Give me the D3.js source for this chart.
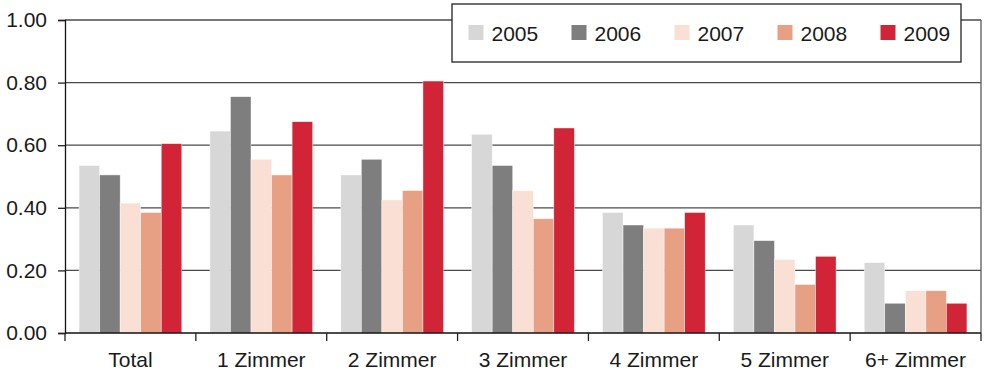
<!DOCTYPE html>
<html>
<head>
<meta charset="utf-8">
<script src="https://cdn.jsdelivr.net/npm/d3@7"></script>
<style>
  html, body { margin: 0; padding: 0; background: #fff; }
  svg { display: block; font-family: "Liberation Sans", Arial, sans-serif; }
</style>
</head>
<body>
<svg id="chart" width="984" height="371"></svg>
<script>
// Categories (number of rooms) and one value array per year
const categories = ["Total", "1 Zimmer", "2 Zimmer", "3 Zimmer", "4 Zimmer", "5 Zimmer", "6+ Zimmer"];
const years = ["2005", "2006", "2007", "2008", "2009"];
const v2005 = [0.535, 0.645, 0.505, 0.635, 0.385, 0.345, 0.225];
const v2006 = [0.505, 0.755, 0.555, 0.535, 0.345, 0.295, 0.095];
const v2007 = [0.415, 0.555, 0.425, 0.455, 0.335, 0.235, 0.135];
const v2008 = [0.385, 0.505, 0.455, 0.365, 0.335, 0.155, 0.135];
const v2009 = [0.605, 0.675, 0.805, 0.655, 0.385, 0.245, 0.095];
const yTicks = [0, 0.2, 0.4, 0.6, 0.8, 1.0];
const colors = ["#d7d7d7", "#7e7e7e", "#f9dfd4", "#e8a084", "#d12436"];

const series = [v2005, v2006, v2007, v2008, v2009];

const svg = d3.select("#chart");
const plotLeft = 65, plotRight = 981, plotTop = 20, plotBottom = 333;

const x0 = d3.scaleBand().domain(categories).range([plotLeft, plotRight])
  .paddingInner(0.215).paddingOuter(0.1075);
const x1 = d3.scaleBand().domain(years).range([0, x0.bandwidth()]);
const y = d3.scaleLinear().domain([0, 1]).range([plotBottom, plotTop]);

// Horizontal gridlines
svg.append("g")
  .selectAll("line")
  .data(yTicks.filter(t => t > 0))
  .join("line")
  .attr("x1", plotLeft).attr("x2", plotRight)
  .attr("y1", d => y(d)).attr("y2", d => y(d))
  .attr("stroke", "#4a4a4a").attr("stroke-width", 1.3);

// Right border of plot area
svg.append("line")
  .attr("x1", plotRight).attr("x2", plotRight)
  .attr("y1", plotTop).attr("y2", plotBottom)
  .attr("stroke", "#5a5a5a").attr("stroke-width", 1.3);

// Bars
const groups = svg.append("g")
  .selectAll("g")
  .data(categories)
  .join("g")
  .attr("transform", d => `translate(${x0(d)},0)`);

groups.selectAll("rect")
  .data((c, i) => years.map((yr, j) => ({ yr, j, v: series[j][i] })))
  .join("rect")
  .attr("x", d => x1(d.yr))
  .attr("width", x1.bandwidth())
  .attr("y", d => y(d.v))
  .attr("height", d => y(0) - y(d.v))
  .attr("fill", d => colors[d.j])
  .attr("stroke", "#ffffff").attr("stroke-width", 0.6).attr("stroke-opacity", 0.7);

// Y axis
const yAxis = d3.axisLeft(y).tickValues(yTicks).tickFormat(d3.format(".2f"))
  .tickSize(7).tickPadding(11);
const gy = svg.append("g").attr("transform", `translate(${plotLeft},0)`).call(yAxis);
gy.select(".domain").attr("stroke", "#111").attr("stroke-width", 1.3);
gy.selectAll(".tick line").attr("stroke", "#222").attr("stroke-width", 1.3);
gy.selectAll("text").attr("font-size", 21).attr("fill", "#1a1a1a")
  .attr("font-family", "'Liberation Sans', Arial, sans-serif");

// X axis with ticks at band boundaries
const gx = svg.append("g").attr("transform", `translate(0,${plotBottom})`);
gx.append("line").attr("x1", plotLeft).attr("x2", plotRight).attr("y1", 0).attr("y2", 0)
  .attr("stroke", "#111").attr("stroke-width", 1.3);
const step = x0.step();
const bounds = categories.map((c, i) => plotLeft + i * step).concat([plotRight]);
gx.selectAll("line.tk")
  .data(bounds)
  .join("line")
  .attr("class", "tk")
  .attr("x1", d => d).attr("x2", d => d)
  .attr("y1", 0).attr("y2", 8)
  .attr("stroke", "#222").attr("stroke-width", 1.3);
gx.selectAll("text")
  .data(categories)
  .join("text")
  .attr("x", d => x0(d) + x0.bandwidth() / 2)
  .attr("y", 34)
  .attr("text-anchor", "middle")
  .attr("font-size", 21)
  .attr("fill", "#1a1a1a")
  .text(d => d);

// Legend
const lg = svg.append("g");
lg.append("rect")
  .attr("x", 452).attr("y", 4).attr("width", 509).attr("height", 58)
  .attr("fill", "#fff").attr("stroke", "#222").attr("stroke-width", 1.3);
const items = lg.selectAll("g.item")
  .data(years)
  .join("g")
  .attr("class", "item")
  .attr("transform", (d, i) => `translate(${468.5 + i * 103},0)`);
items.append("rect")
  .attr("x", 0).attr("y", 25).attr("width", 15).attr("height", 15)
  .attr("fill", (d, i) => colors[i]);
items.append("text")
  .attr("x", 23).attr("y", 41)
  .attr("font-size", 21)
  .attr("fill", "#1a1a1a")
  .text(d => d);
</script>
</body>
</html>
